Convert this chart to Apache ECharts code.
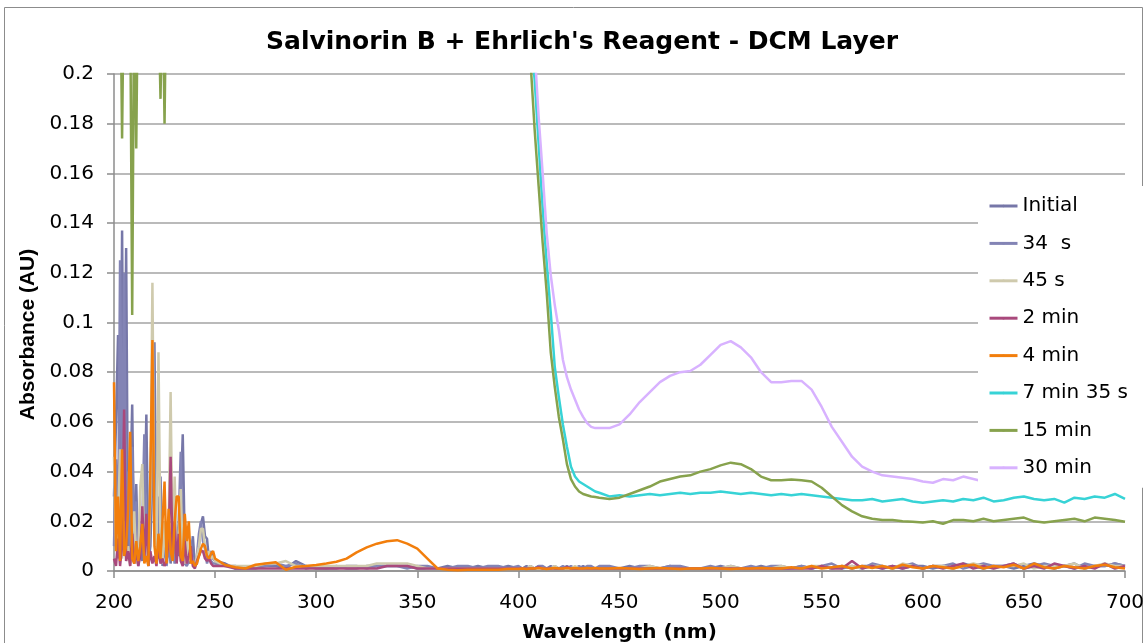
<!DOCTYPE html>
<html>
<head>
<meta charset="utf-8">
<script src="https://cdn.jsdelivr.net/npm/echarts@6/dist/echarts.min.js"></script>
<style>
html,body{margin:0;padding:0;background:#fff;}
#chart{width:1146px;height:643px;}
</style>
</head>
<body>
<div id="chart"></div>
<script>
// Wavelength grid (nm)
const wavelengths = [
200,201,202,203,204,205,206,207,208,209,
210,211,212,213,214,215,216,217,218,219,
220,221,222,223,224,225,226,227,228,229,
230,231,232,233,234,235,236,237,238,239,
240,241,242,243,244,245,246,247,248,249,
250,
255,260,265,270,275,280,285,290,295,300,
305,310,315,320,325,330,335,340,345,350,
355,360,365,370,375,380,385,390,395,
400,402,404,406,408,410,412,414,416,418,
420,422,424,426,428,430,432,434,436,438,
440,
445,450,455,460,465,470,475,480,485,490,
495,500,505,510,515,520,525,530,535,540,
545,550,555,560,565,570,575,580,585,590,
595,600,605,610,615,620,625,630,635,640,
645,650,655,660,665,670,675,680,685,690,
695,700
];

const seriesNames = ["Initial","34  s","45 s","2 min","4 min","7 min 35 s","15 min","30 min"];

const initial = [
0.030,0.060,0.095,0.020,0.137,0.010,0.130,0.005,0.030,0.067,
0.005,0.035,0.002,0.010,0.004,0.020,0.063,0.003,0.010,0.040,
0.092,0.010,0.005,0.038,0.002,0.010,0.004,0.020,0.003,0.015,
0.005,0.012,0.006,0.030,0.055,0.010,0.004,0.003,0.006,0.014,
0.002,0.003,0.010,0.019,0.022,0.014,0.013,0.004,0.008,0.005,
0.004,
0.003,0.001,0.001,0.002,0.002,0.002,0.001,0.004,0.002,0.001,
0.001,0.002,0.001,0.001,0.002,0.002,0.002,0.002,0.002,0.001,
0.001,0.001,0.002,0.001,0.001,0.002,0.001,0.001,0.002,
0.001,0.001,0.002,0.001,0.001,0.002,0.001,0.001,0.002,0.001,
0.001,0.001,0.002,0.001,0.001,0.001,0.002,0.001,0.001,0.001,
0.001,
0.001,0.001,0.002,0.001,0.001,0.001,0.002,0.001,0.001,0.001,
0.001,0.002,0.001,0.001,0.001,0.002,0.001,0.001,0.001,0.002,
0.001,0.002,0.001,0.002,0.001,0.002,0.002,0.001,0.002,0.001,
0.002,0.002,0.001,0.002,0.001,0.003,0.002,0.001,0.002,0.002,
0.001,0.002,0.003,0.002,0.001,0.002,0.003,0.001,0.002,0.002,
0.003,0.002
];

const s34 = [
0.010,0.045,0.005,0.125,0.030,0.120,0.020,0.040,0.003,0.050,
0.012,0.028,0.003,0.006,0.018,0.055,0.010,0.002,0.030,0.085,
0.015,0.004,0.030,0.008,0.003,0.015,0.002,0.010,0.004,0.010,
0.003,0.008,0.020,0.048,0.008,0.003,0.002,0.004,0.012,0.003,
0.002,0.006,0.015,0.020,0.012,0.009,0.003,0.006,0.004,0.003,
0.003,
0.002,0.002,0.001,0.001,0.002,0.003,0.002,0.003,0.001,0.002,
0.001,0.001,0.002,0.002,0.001,0.002,0.002,0.002,0.001,0.002,
0.002,0.001,0.001,0.002,0.002,0.001,0.002,0.002,0.001,
0.002,0.001,0.001,0.002,0.001,0.002,0.002,0.001,0.001,0.002,
0.001,0.002,0.001,0.002,0.001,0.002,0.001,0.002,0.002,0.001,
0.002,
0.002,0.001,0.001,0.002,0.002,0.001,0.002,0.002,0.001,0.001,
0.002,0.001,0.002,0.001,0.002,0.001,0.002,0.002,0.001,0.002,
0.001,0.002,0.003,0.001,0.002,0.001,0.003,0.002,0.001,0.002,
0.003,0.001,0.002,0.002,0.003,0.001,0.002,0.003,0.002,0.002,
0.003,0.001,0.002,0.003,0.002,0.002,0.001,0.003,0.002,0.002,
0.003,0.002
];

const s45 = [
0.046,0.010,0.020,0.049,0.005,0.020,0.004,0.010,0.002,0.015,
0.024,0.003,0.005,0.034,0.043,0.005,0.010,0.003,0.030,0.116,
0.020,0.005,0.088,0.010,0.003,0.020,0.004,0.015,0.072,0.005,
0.038,0.008,0.010,0.033,0.005,0.003,0.012,0.004,0.008,0.003,
0.002,0.006,0.010,0.017,0.017,0.010,0.006,0.008,0.005,0.006,
0.004,
0.002,0.002,0.002,0.002,0.003,0.003,0.004,0.002,0.002,0.002,
0.002,0.002,0.002,0.002,0.002,0.003,0.003,0.003,0.003,0.002,
0.001,0.001,0.001,0.001,0.001,0.001,0.001,0.001,0.001,
0.001,0.001,0.001,0.002,0.001,0.001,0.001,0.001,0.001,0.002,
0.001,0.001,0.001,0.001,0.002,0.001,0.001,0.001,0.001,0.001,
0.001,
0.001,0.001,0.001,0.001,0.002,0.001,0.001,0.001,0.001,0.001,
0.001,0.001,0.002,0.001,0.001,0.001,0.001,0.002,0.001,0.001,
0.002,0.002,0.001,0.002,0.002,0.001,0.002,0.002,0.001,0.003,
0.002,0.001,0.002,0.002,0.001,0.002,0.003,0.002,0.001,0.002,
0.002,0.003,0.001,0.002,0.002,0.002,0.003,0.001,0.002,0.003,
0.002,0.002
];

const min2 = [
0.005,0.002,0.013,0.002,0.010,0.065,0.004,0.008,0.002,0.015,
0.003,0.008,0.002,0.006,0.026,0.004,0.023,0.002,0.008,0.003,
0.006,0.002,0.010,0.003,0.005,0.002,0.004,0.012,0.046,0.005,
0.020,0.003,0.015,0.004,0.002,0.012,0.003,0.006,0.010,0.002,
0.001,0.004,0.006,0.008,0.008,0.005,0.004,0.005,0.003,0.002,
0.002,
0.002,0.001,0.001,0.001,0.001,0.001,0.001,0.001,0.001,0.001,
0.001,0.001,0.001,0.001,0.001,0.001,0.002,0.002,0.002,0.001,
0.001,0.001,0.001,0.001,0.001,0.001,0.001,0.001,0.001,
0.001,0.001,0.001,0.001,0.001,0.0015,0.001,0.001,0.001,0.001,
0.001,0.001,0.0015,0.001,0.001,0.001,0.001,0.001,0.001,0.001,
0.001,
0.001,0.001,0.001,0.001,0.001,0.001,0.001,0.001,0.001,0.001,
0.001,0.001,0.001,0.001,0.001,0.001,0.001,0.001,0.001,0.001,
0.001,0.002,0.001,0.001,0.004,0.001,0.002,0.001,0.002,0.001,
0.002,0.001,0.002,0.001,0.002,0.003,0.001,0.002,0.001,0.002,
0.003,0.001,0.002,0.001,0.003,0.002,0.001,0.002,0.001,0.003,
0.001,0.002
];

const min4 = [
0.076,0.008,0.030,0.004,0.049,0.006,0.010,0.025,0.056,0.005,
0.003,0.012,0.004,0.010,0.019,0.003,0.006,0.002,0.040,0.093,
0.010,0.003,0.015,0.005,0.020,0.036,0.003,0.025,0.008,0.004,
0.020,0.030,0.030,0.006,0.004,0.023,0.012,0.020,0.003,0.004,
0.002,0.003,0.006,0.009,0.011,0.010,0.006,0.005,0.007,0.008,
0.005,
0.0024,0.0015,0.0010,0.0025,0.0030,0.0035,0.0005,0.0017,0.0020,0.0024,
0.0030,0.0037,0.0050,0.0075,0.0095,0.0110,0.0120,0.0124,0.0110,0.0090,
0.0050,0.0010,0.0005,0.0003,0.0005,0.0005,0.0005,0.0005,0.0008,
0.0008,0.0010,0.0008,0.0010,0.0010,0.0012,0.0010,0.0008,0.0010,0.0012,
0.0010,0.0010,0.0012,0.0010,0.0012,0.0010,0.0010,0.0012,0.0010,0.0012,
0.0010,
0.0010,0.0012,0.0010,0.0008,0.0010,0.0012,0.0010,0.0008,0.0010,0.0010,
0.0012,0.0010,0.0008,0.0010,0.0010,0.0012,0.0010,0.0010,0.0015,0.0010,
0.0020,0.0010,0.0015,0.0020,0.0010,0.0020,0.0012,0.0020,0.0010,0.0025,
0.0015,0.0010,0.0020,0.0015,0.0010,0.0020,0.0025,0.0010,0.0020,0.0015,
0.0025,0.0010,0.0030,0.0015,0.0010,0.0020,0.0015,0.0010,0.0020,0.0025,
0.0015,0.0010
];

// values above 0.2 run off the top of the plot (saturated)
const min7s35 = [
0.25,0.25,0.25,0.25,0.25,0.25,0.25,0.25,0.25,0.25,
0.25,0.25,0.25,0.25,0.25,0.25,0.25,0.25,0.25,0.25,
0.25,0.25,0.25,0.25,0.25,0.25,0.25,0.25,0.25,0.25,
0.25,0.25,0.25,0.25,0.25,0.25,0.25,0.25,0.25,0.25,
0.25,0.25,0.25,0.25,0.25,0.25,0.25,0.25,0.25,0.25,
0.25,
0.25,0.25,0.25,0.25,0.25,0.25,0.25,0.25,0.25,0.25,
0.25,0.25,0.25,0.25,0.25,0.25,0.25,0.25,0.25,0.25,
0.25,0.25,0.25,0.25,0.25,0.25,0.25,0.25,0.25,
0.25,0.25,0.24,0.215,0.198,0.172,0.146,0.124,0.104,0.082,
0.070,0.059,0.050,0.042,0.038,0.036,0.035,0.034,0.033,0.032,
0.0315,
0.030,0.0305,0.030,0.0305,0.031,0.0305,0.031,0.0315,0.031,0.0315,
0.0315,0.032,0.0315,0.031,0.0315,0.031,0.0305,0.031,0.0305,0.031,
0.0305,0.030,0.0295,0.029,0.0285,0.0285,0.029,0.028,0.0285,0.029,
0.028,0.0275,0.028,0.0285,0.028,0.029,0.0285,0.0295,0.028,0.0285,
0.0295,0.030,0.029,0.0285,0.029,0.0275,0.0295,0.029,0.030,0.0295,
0.031,0.029
];

const min15 = [
0.25,0.25,0.25,0.25,0.174,0.25,0.25,0.25,0.23,0.103,
0.24,0.17,0.25,0.25,0.25,0.25,0.25,0.25,0.25,0.25,
0.25,0.25,0.23,0.19,0.24,0.18,0.25,0.25,0.25,0.25,
0.25,0.25,0.25,0.25,0.25,0.25,0.25,0.25,0.25,0.25,
0.25,0.25,0.25,0.25,0.25,0.25,0.25,0.25,0.25,0.25,
0.25,
0.25,0.25,0.25,0.25,0.25,0.25,0.25,0.25,0.25,0.25,
0.25,0.25,0.25,0.25,0.25,0.25,0.25,0.25,0.25,0.25,
0.25,0.25,0.25,0.25,0.25,0.25,0.25,0.25,0.25,
0.25,0.25,0.23,0.205,0.178,0.155,0.132,0.112,0.088,0.074,
0.062,0.053,0.043,0.037,0.034,0.032,0.031,0.0305,0.030,0.0298,
0.0295,
0.029,0.0295,0.031,0.0325,0.034,0.036,0.037,0.038,0.0385,0.040,
0.041,0.0425,0.0436,0.043,0.041,0.038,0.0365,0.0365,0.0368,0.0365,
0.036,0.0335,0.030,0.0265,0.024,0.022,0.021,0.0205,0.0205,0.020,
0.0198,0.0195,0.020,0.019,0.0205,0.0205,0.020,0.021,0.020,0.0205,
0.021,0.0215,0.020,0.0195,0.020,0.0205,0.021,0.020,0.0215,0.021,
0.0205,0.0198
];

const min30 = [
0.25,0.25,0.25,0.25,0.25,0.25,0.25,0.25,0.25,0.25,
0.25,0.25,0.25,0.25,0.25,0.25,0.25,0.25,0.25,0.25,
0.25,0.25,0.25,0.25,0.25,0.25,0.25,0.25,0.25,0.25,
0.25,0.25,0.25,0.25,0.25,0.25,0.25,0.25,0.25,0.25,
0.25,0.25,0.25,0.25,0.25,0.25,0.25,0.25,0.25,0.25,
0.25,
0.25,0.25,0.25,0.25,0.25,0.25,0.25,0.25,0.25,0.25,
0.25,0.25,0.25,0.25,0.25,0.25,0.25,0.25,0.25,0.25,
0.25,0.25,0.25,0.25,0.25,0.25,0.25,0.25,0.25,
0.25,0.25,0.25,0.235,0.21,0.183,0.16,0.136,0.119,0.107,
0.097,0.085,0.078,0.073,0.069,0.065,0.062,0.0595,0.058,0.0575,
0.0575,
0.0575,0.059,0.063,0.068,0.072,0.076,0.0785,0.080,0.0805,0.083,
0.087,0.091,0.0925,0.090,0.086,0.080,0.076,0.076,0.0765,0.0765,
0.073,0.066,0.058,0.052,0.046,0.042,0.040,0.0385,0.038,0.0375,
0.037,0.036,0.0355,0.037,0.0365,0.038,0.037,0.036,0.0365,0.036,
0.0355,0.036,0.036,0.0355,0.036,0.0365,0.036,0.0355,0.036,0.0365,
0.036,0.0355
];

const seriesValues = [initial, s34, s45, min2, min4, min7s35, min15, min30];
const seriesColors = ["#7677a8","#8384b5","#cfcaad","#a9497c","#f27e0c","#37d3d6","#87a24d","#d8b2ff"];
const yTicks = {min: 0, max: 0.2, interval: 0.02};
const xTicks = {min: 200, max: 700, interval: 50};

const FONT = "DejaVu Sans";
const chart = echarts.init(document.getElementById('chart'), null, {renderer: 'canvas'});

const series = seriesNames.map((name, k) => ({
  name: name,
  type: 'line',
  data: wavelengths.map((w, i) => [w, seriesValues[k][i]]),
  showSymbol: false,
  symbol: 'none',
  clip: true,
  lineStyle: {color: seriesColors[k], width: 2.5},
  itemStyle: {color: seriesColors[k], borderWidth: 0},
  emphasis: {disabled: true},
  animation: false,
  z: 2 + k * 0.01
}));

chart.setOption({
  animation: false,
  backgroundColor: '#ffffff',
  graphic: [{
    type: 'rect', z: -10, silent: true,
    shape: {x: 4.5, y: 7.5, width: 1138, height: 700},
    style: {fill: 'none', stroke: '#8c8c8c', lineWidth: 1}
  }],
  title: {
    text: "Salvinorin B + Ehrlich's Reagent - DCM Layer",
    left: 266, top: 30, padding: 0,
    textStyle: {fontFamily: FONT, fontWeight: 'bold', fontSize: 25, color: '#000'}
  },
  grid: {left: 114, right: 21, top: 74, bottom: 72, containLabel: false, outerBoundsMode: 'none'},
  legend: {
    orient: 'vertical',
    left: 978, top: 186,
    padding: [10, 16, 10, 10],
    backgroundColor: '#ffffff',
    itemWidth: 28, itemHeight: 3, itemGap: 17.4,
    itemStyle: {borderWidth: 0},
    lineStyle: {width: 3},
    selectedMode: false,
    textStyle: {fontFamily: FONT, fontSize: 20, color: '#000', lineHeight: 20},
    data: seriesNames
  },
  xAxis: {
    type: 'value', min: xTicks.min, max: xTicks.max, interval: xTicks.interval,
    name: 'Wavelength (nm)', nameLocation: 'middle', nameGap: 52,
    nameTextStyle: {fontFamily: FONT, fontWeight: 'bold', fontSize: 20, color: '#000'},
    axisLine: {show: true, onZero: false, lineStyle: {color: '#8c8c8c', width: 1.5}},
    axisTick: {show: true, inside: false, length: 7, lineStyle: {color: '#8c8c8c', width: 1.5}},
    axisLabel: {fontFamily: FONT, fontSize: 20, color: '#000', margin: 22},
    splitLine: {show: false}
  },
  yAxis: {
    type: 'value', min: yTicks.min, max: yTicks.max, interval: yTicks.interval,
    name: 'Absorbance (AU)', nameLocation: 'middle', nameGap: 72, nameRotate: 90,
    nameTextStyle: {fontFamily: 'Liberation Sans', fontWeight: 'bold', fontSize: 21, color: '#000', padding: [0, 24, 0, 0]},
    axisLine: {show: true, lineStyle: {color: '#8c8c8c', width: 1.5}},
    axisTick: {show: true, inside: false, length: 7, lineStyle: {color: '#8c8c8c', width: 1.5}},
    axisLabel: {fontFamily: FONT, fontSize: 20, color: '#000', margin: 20,
      formatter: v => String(parseFloat(v.toFixed(2)))},
    splitLine: {show: true, lineStyle: {color: '#a3a3a3', width: 1.5}}
  },
  series: series
});
</script>
</body>
</html>
